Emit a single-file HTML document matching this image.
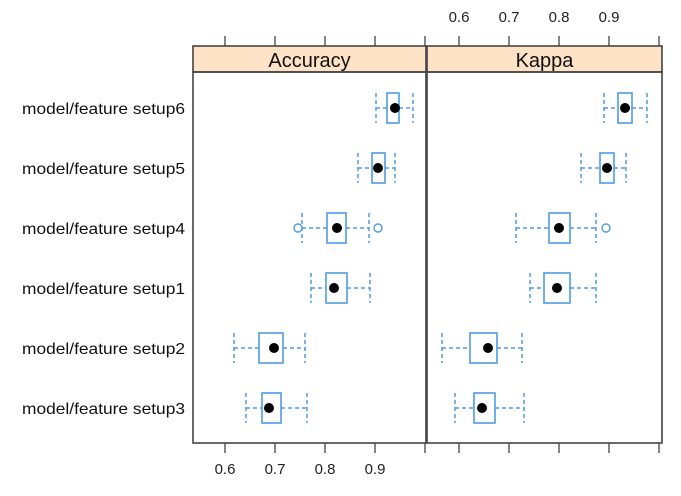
<!DOCTYPE html>
<html><head><meta charset="utf-8"><style>
body{margin:0;background:#fff;}
svg{display:block;font-family:"Liberation Sans",Arial,sans-serif;}
</style></head><body>
<svg id="chart" width="681" height="496"></svg>
<script>
const categories=["model/feature setup6","model/feature setup5","model/feature setup4","model/feature setup1","model/feature setup2","model/feature setup3"];
// [lowWhisker, q1, median, q3, highWhisker]
const accuracyStats=[[0.902,0.924,0.940,0.948,0.976],[0.866,0.894,0.906,0.920,0.940],[0.754,0.804,0.824,0.842,0.888],[0.772,0.802,0.818,0.844,0.890],[0.618,0.668,0.698,0.716,0.760],[0.642,0.674,0.688,0.712,0.764]];
const kappaStats=[[0.890,0.918,0.932,0.946,0.976],[0.844,0.882,0.896,0.910,0.934],[0.714,0.780,0.800,0.822,0.874],[0.742,0.770,0.796,0.822,0.874],[0.566,0.622,0.658,0.676,0.726],[0.592,0.630,0.646,0.672,0.730]];
const accuracyOutliers=[[],[],[0.746,0.906],[],[],[]];
const kappaOutliers=[[],[],[0.894],[],[],[]];
const tickValues=[0.6,0.7,0.8,0.9,1.0];
const tickLabels=["0.6","0.7","0.8","0.9"];
const panelNames=["Accuracy","Kappa"];

const NS="http://www.w3.org/2000/svg";
const svg=document.getElementById("chart");
function mk(tag,attrs,name,parent){const e=document.createElementNS(NS,tag);for(const k in attrs)e.setAttribute(k,attrs[k]);


(parent||svg).appendChild(e);return e;}
const BLUE="#4f9be6";
const plotTop=72,plotBottom=443,stripTop=46;
const panels=[{x0:193,x1:426,stats:accuracyStats,out:accuracyOutliers},{x0:427,x1:662,stats:kappaStats,out:kappaOutliers}];
function xScale(p,v){return p.x0+(v-0.536)*500;}
function yScale(i){return 108+i*60;}
categories.forEach((c,i)=>{const t=mk("text",{x:22,y:yScale(i)+6,"font-size":16,fill:"#111",textLength:163,lengthAdjust:"spacingAndGlyphs"},"category-label");t.textContent=c;});
panels.forEach((p,pi)=>{
  const g=mk("g",{},"panel-"+panelNames[pi].toLowerCase());
  mk("rect",{x:p.x0,y:stripTop,width:p.x1-p.x0,height:plotTop-stripTop,fill:"#fde2c6",stroke:"#444","stroke-width":1.6},"strip",g);
  const st=mk("text",{x:(p.x0+p.x1)/2,y:67,"text-anchor":"middle","font-size":20,fill:"#111"},"strip-title",g);st.textContent=panelNames[pi];
  mk("rect",{x:p.x0,y:plotTop,width:p.x1-p.x0,height:plotBottom-plotTop,fill:"none",stroke:"#444","stroke-width":1.6},"panel-frame",g);
  tickValues.forEach((v,k)=>{const x=xScale(p,v);
    mk("line",{x1:x,x2:x,y1:36,y2:stripTop,stroke:"#444","stroke-width":1.3},"top-tick",g);
    mk("line",{x1:x,x2:x,y1:plotBottom,y2:453,stroke:"#444","stroke-width":1.3},"bottom-tick",g);
    if(k<tickLabels.length){
      if(pi===0){const t=mk("text",{x:x,y:474,"text-anchor":"middle","font-size":15,fill:"#222"},"x-tick-label",g);t.textContent=tickLabels[k];}
      else{const t=mk("text",{x:x,y:22,"text-anchor":"middle","font-size":15,fill:"#222"},"x-tick-label",g);t.textContent=tickLabels[k];}
    }
  });
  p.stats.forEach((s,i)=>{const y=yScale(i);const [lo,q1,md,q3,hi]=s.map(v=>xScale(p,v));
    const bg=mk("g",{},"box-"+categories[i].replace(/[^a-z0-9]+/gi,'-').toLowerCase(),g);
    mk("line",{x1:lo,x2:q1,y1:y,y2:y,stroke:BLUE,"stroke-width":1.5,"stroke-dasharray":"4,3"},"whisker",bg);
    mk("line",{x1:q3,x2:hi,y1:y,y2:y,stroke:BLUE,"stroke-width":1.5,"stroke-dasharray":"4,3"},"whisker",bg);
    mk("line",{x1:lo,x2:lo,y1:y-15,y2:y+15,stroke:BLUE,"stroke-width":1.5,"stroke-dasharray":"4,3"},"whisker-cap",bg);
    mk("line",{x1:hi,x2:hi,y1:y-15,y2:y+15,stroke:BLUE,"stroke-width":1.5,"stroke-dasharray":"4,3"},"whisker-cap",bg);
    mk("rect",{x:q1,y:y-15,width:q3-q1,height:30,fill:"none",stroke:BLUE,"stroke-width":1.6},"iqr-box",bg);
    mk("circle",{cx:md,cy:y,r:5,fill:"#000"},"median-dot",bg);
    p.out[i].forEach(o=>mk("circle",{cx:xScale(p,o),cy:y,r:4,fill:"#fff",stroke:BLUE,"stroke-width":1.4},"outlier",bg));
  });
});
</script>
</body></html>
